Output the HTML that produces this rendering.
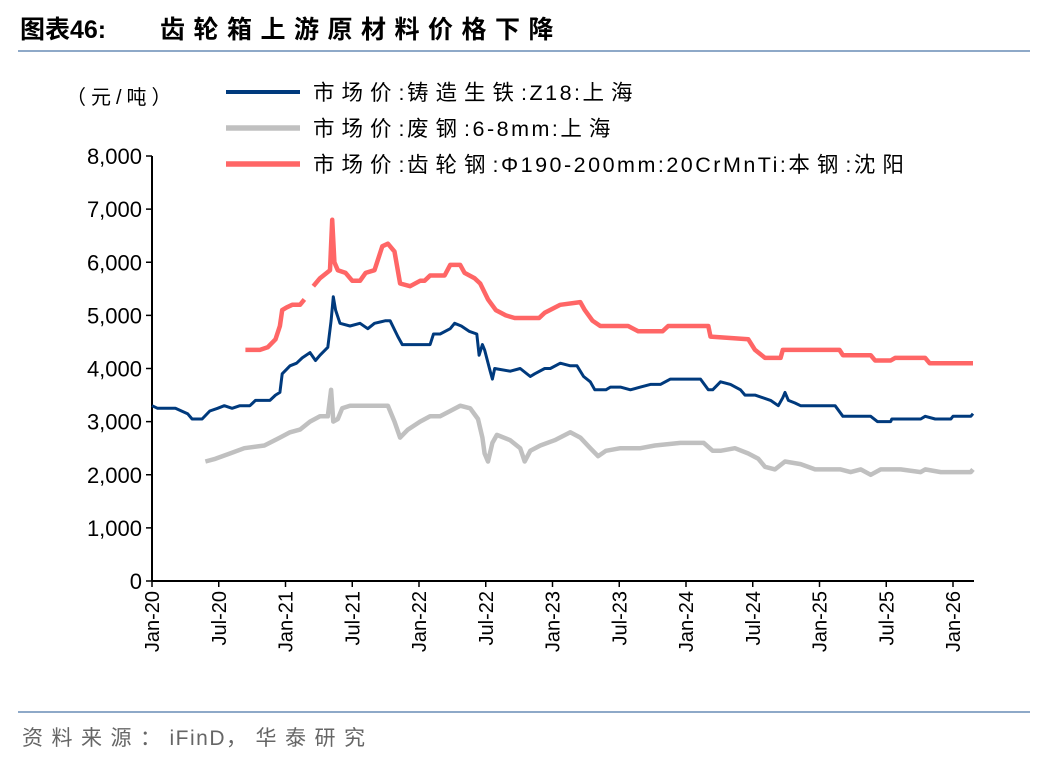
<!DOCTYPE html>
<html><head><meta charset="utf-8"><style>
body{margin:0;background:#fff;}
svg text{font-family:"Liberation Sans","Noto Sans CJK SC",sans-serif;}
</style></head><body>
<svg width="1048" height="764" viewBox="0 0 1048 764" xmlns="http://www.w3.org/2000/svg">
<text x="20" y="38" font-size="25" font-weight="bold" fill="#000">图表46:<tspan x="160" letter-spacing="8.5">齿轮箱上游原材料价格下降</tspan></text>
<line x1="18" y1="51" x2="1030" y2="51" stroke="#8ea9c8" stroke-width="2"/>
<line x1="18" y1="712" x2="1030" y2="712" stroke="#8ea9c8" stroke-width="2"/>
<text x="22" y="745" font-size="21" fill="#666" letter-spacing="8.5">资料来源：<tspan letter-spacing="1.5">iFinD</tspan>，华泰研究</text>
<text x="66" y="104" font-size="20" fill="#000" letter-spacing="5">（元/吨）</text>
<g id="legend"></g>
<g id="axes"></g>
<g id="series"></g>
</svg>
<script>
const yTicks=[0,1000,2000,3000,4000,5000,6000,7000,8000];
const xTickLabels=["Jan-20","Jul-20","Jan-21","Jul-21","Jan-22","Jul-22","Jan-23","Jul-23","Jan-24","Jul-24","Jan-25","Jul-25","Jan-26"];
const xTickMonths=[0,6,12,18,24,30,36,42,48,54,60,66,72];
const seriesNames=["市场价:铸造生铁:Z18:上海","市场价:废钢:6-8mm:上海","市场价:齿轮钢:Φ190-200mm:20CrMnTi:本钢:沈阳"];
// months since Jan-20
const ironMonths=[0,0.5,2.1,3.2,3.6,4.5,5.2,5.9,6.5,7.2,7.9,8.8,9.3,10.6,11.1,11.5,11.7,12.4,13.0,13.5,14.2,14.7,15.1,15.8,16.1,16.3,16.5,16.9,17.8,18.7,19.4,20.0,21.0,21.4,22.1,22.5,23.2,25.0,25.3,25.9,26.8,27.2,27.8,28.5,29.2,29.4,29.7,29.9,30.4,30.6,30.8,32.2,33.1,34.0,34.4,35.3,35.8,36.7,37.6,38.2,38.8,39.4,39.8,40.8,41.2,42.1,43.0,43.9,44.8,45.7,46.6,49.3,50.0,50.4,51.1,52.0,52.9,53.3,54.2,55.6,56.3,56.7,56.9,57.2,57.8,58.3,61.4,62.1,64.6,65.2,66.4,66.5,69.1,69.5,70.4,71.8,72.0,73.6,73.8];
const ironValues=[3300,3250,3250,3150,3050,3050,3200,3250,3300,3250,3300,3300,3400,3400,3500,3550,3900,4050,4100,4200,4300,4150,4250,4400,4900,5350,5100,4850,4800,4850,4750,4850,4900,4900,4600,4450,4450,4450,4650,4650,4750,4850,4800,4700,4650,4250,4450,4350,3950,3800,4000,3950,4000,3850,3900,4000,4000,4100,4050,4050,3850,3750,3600,3600,3650,3650,3600,3650,3700,3700,3800,3800,3600,3600,3750,3700,3600,3500,3500,3400,3300,3450,3550,3400,3350,3300,3300,3100,3100,3000,3000,3050,3050,3100,3050,3050,3100,3100,3150];
const scrapMonths=[4.8,5.7,7.0,8.3,10.1,11.5,12.4,13.3,14.2,15.1,15.8,16.1,16.3,16.7,17.1,17.8,19.6,21.2,21.8,22.3,23.0,24.1,25.0,25.9,26.8,27.7,28.6,29.3,29.7,29.9,30.2,30.6,31.0,32.2,33.1,33.5,34.0,34.9,36.2,37.6,38.5,39.4,40.1,40.8,42.1,43.9,45.2,47.5,49.6,50.4,51.1,52.4,53.6,54.5,55.1,56.0,56.9,58.3,59.6,61.9,62.8,63.7,64.6,65.5,67.3,69.1,69.5,70.9,73.6,73.8];
const scrapValues=[2250,2300,2400,2500,2550,2700,2800,2850,3000,3100,3100,3600,3000,3050,3250,3300,3300,3300,3000,2700,2850,3000,3100,3100,3200,3300,3250,3050,2700,2400,2250,2600,2750,2650,2500,2250,2450,2550,2650,2800,2700,2500,2350,2450,2500,2500,2550,2600,2600,2450,2450,2500,2400,2300,2150,2100,2250,2200,2100,2100,2050,2100,2000,2100,2100,2050,2100,2050,2050,2100];
const gearMonths=[8.4,9.7,10.4,11.1,11.5,11.7,12.1,12.6,13.3,13.7,null,14.5,15.1,16.0,16.2,16.4,16.7,17.4,18.0,18.7,19.2,20.0,20.7,21.2,21.8,22.3,23.2,24.1,24.5,25.0,26.3,26.8,27.7,28.1,29.0,29.5,30.2,30.9,31.8,32.6,34.8,35.3,36.7,38.5,38.9,39.6,40.3,42.8,43.7,45.9,46.4,50.0,50.2,53.6,54.2,55.1,56.5,56.7,61.8,62.1,64.6,65.0,66.4,66.8,69.5,69.9,73.8];
const gearValues=[4350,4350,4400,4550,4800,5100,5150,5200,5200,5300,null,5550,5700,5850,6800,6000,5850,5800,5650,5650,5800,5850,6300,6350,6200,5600,5550,5650,5650,5750,5750,5950,5950,5800,5700,5600,5300,5100,5000,4950,4950,5050,5200,5250,5100,4900,4800,4800,4700,4700,4800,4800,4600,4550,4350,4200,4200,4350,4350,4250,4250,4150,4150,4200,4200,4100,4100];

const X0=152,PXM=11.125,Y0=581,PXV=425/8000;
const xs=m=>X0+m*PXM, ys=v=>Y0-v*PXV;
const NS="http://www.w3.org/2000/svg";
function mk(tag,attrs,parent){const e=document.createElementNS(NS,tag);for(const k in attrs)e.setAttribute(k,attrs[k]);parent.appendChild(e);return e;}
const axes=document.getElementById('axes');
let yAxis=mk('line',{x1:X0,y1:ys(8000),x2:X0,y2:Y0,stroke:'#000','stroke-width':2},axes);


let xAxis=mk('line',{x1:X0,y1:Y0,x2:974,y2:Y0,stroke:'#000','stroke-width':2},axes);


yTicks.forEach(v=>{
 mk('line',{x1:X0-6,y1:ys(v),x2:X0,y2:ys(v),stroke:'#000','stroke-width':1.5},axes);
 const t=mk('text',{x:X0-10,y:ys(v)+8,'font-size':22,'text-anchor':'end',fill:'#000'},axes);
 t.textContent=v.toLocaleString('en-US');
 
 
});
xTickMonths.forEach((m,i)=>{
 const x=xs(m);
 mk('line',{x1:x,y1:Y0,x2:x,y2:Y0+6,stroke:'#000','stroke-width':1.5},axes);
 const t=mk('text',{x:0,y:0,'font-size':20,'text-anchor':'end',fill:'#000',transform:`translate(${x+7},${Y0+10}) rotate(-90)`},axes);
 t.textContent=xTickLabels[i];
 
 
});
const sg=document.getElementById('series');
function draw(ms,vs,color,w,name){
 let d='',pen=false;
 ms.forEach((m,i)=>{if(m===null||vs[i]===null){pen=false;return;}d+=(pen?'L':'M')+xs(m).toFixed(1)+' '+ys(vs[i]).toFixed(1)+' ';pen=true;});
 const p=mk('path',{d:d,fill:'none',stroke:color,'stroke-width':w,'stroke-linejoin':'round'},sg);
 
 
}
draw(scrapMonths,scrapValues,'#c0c0c0',4.5,'series-scrap-steel');
draw(gearMonths,gearValues,'#ff6666',4.5,'series-gear-steel');
draw(ironMonths,ironValues,'#003a7d',3,'series-pig-iron');
const lg=document.getElementById('legend');
const lc=['#003a7d','#c0c0c0','#ff6666'],lw=[3,4.5,4.5];
seriesNames.forEach((n,i)=>{
 const y=92+i*36;
 const l=mk('line',{x1:226,y1:y,x2:300,y2:y,stroke:lc[i],'stroke-width':lw[i]+1},lg);
 
 
 const t=mk('text',{x:313,y:y+8,'font-size':21.5,fill:'#000'},lg);
 
 
 const parts=n.match(/[\u3000-\u9fff]+|[^\u3000-\u9fff]+/g);
 parts.forEach(p=>{
  const cjk=/[\u3000-\u9fff]/.test(p);
  const s=mk('tspan',{'letter-spacing':cjk?7:2.5},t);
  s.textContent=p;
 });
});
</script>
</body></html>
